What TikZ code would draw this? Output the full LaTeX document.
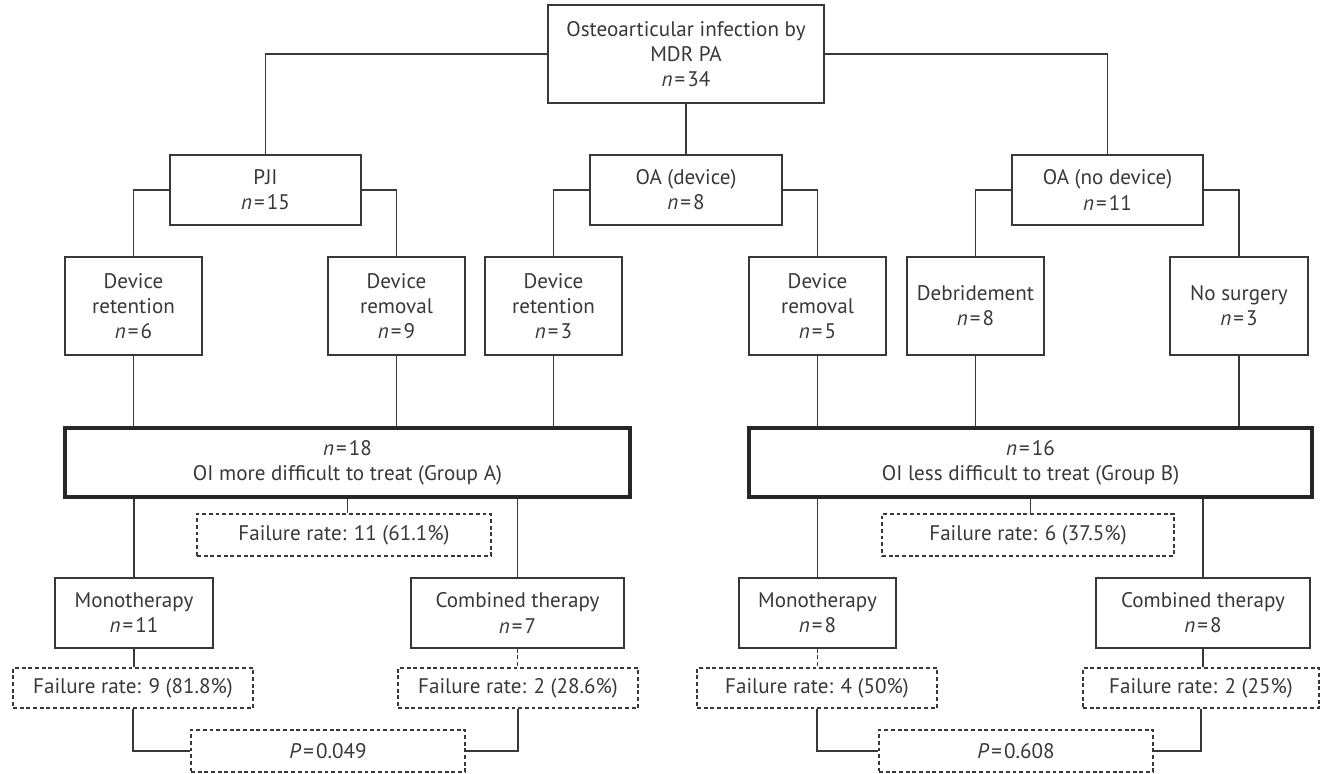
\documentclass[tikz,border=0pt]{standalone}
\usepackage{fontspec}
\setmainfont{PT Sans}
\newcommand{\nval}[1]{\textit{n}\kern1.2pt=\kern1.2pt#1}
\begin{document}
\begin{tikzpicture}[x=0.02cm,y=-0.02cm,
    every node/.style={text=ink,font=\fontsize{12}{14.3}\selectfont,align=center,inner sep=0pt},
    box/.style={draw=ink,line width=0.85pt,minimum width=#1*0.02cm},
    groupbox/.style={draw=ink!70!black,line width=1.8pt,minimum width=#1*0.02cm,minimum height=1.38cm},
    ratebox/.style={draw=ink,line width=0.7pt,dash pattern=on 2.2pt off 1.6pt,minimum width=#1*0.02cm},
    link/.style={draw=ink,line width=0.85pt}]

    \definecolor{ink}{gray}{0.22};

    % picture size as in the figure
    \useasboundingbox (0,0) rectangle (1320,774);

    %top
    \node (top) at (686,54) [box=276,minimum height=1.96cm] {Osteoarticular infection by\\MDR PA\\\nval{34}};

    %diagnosis
    \begin{scope}[every node/.append style={minimum height=1.4cm}]
    \node (pji) at (265.5,190) [box=191] {PJI\\\nval{15}};
    \node (oadev) at (686,190) [box=192] {OA (device)\\\nval{8}};
    \node (oanodev) at (1107.5,190) [box=191] {OA (no device)\\\nval{11}};
    \end{scope}

    %surgery
    \begin{scope}[every node/.append style={minimum height=1.96cm}]
    \node (ret6) at (133.5,306) [box=137] {Device\\retention\\\nval{6}};
    \node (rem9) at (396.5,306) [box=137] {Device\\removal\\\nval{9}};
    \node (ret3) at (553.5,306) [box=137] {Device\\retention\\\nval{3}};
    \node (rem5) at (817.5,306) [box=137] {Device\\removal\\\nval{5}};
    \node (debr) at (975.5,306) [box=137] {Debridement\\\nval{8}};
    \node (nosurg) at (1239,306) [box=138] {No surgery\\\nval{3}};
    \end{scope}

    %groups
    \node (grpA) at (347.5,462.5) [groupbox=565] {\nval{18}\\OI more difficult to treat (Group A)};
    \node (grpB) at (1030.5,462.5) [groupbox=563] {\nval{16}\\OI less difficult to treat (Group B)};
    \node (rateA) at (344,535) [ratebox=294,minimum height=0.84cm] {Failure rate: 11 (61.1\%)};
    \node (rateB) at (1028,535) [ratebox=292,minimum height=0.84cm] {Failure rate: 6 (37.5\%)};

    %therapy
    \begin{scope}[every node/.append style={minimum height=1.4cm}]
    \node (monoA) at (134,613) [box=158] {Monotherapy\\\nval{11}};
    \node (combA) at (517.5,613) [box=213] {Combined therapy\\\nval{7}};
    \node (monoB) at (817.5,613) [box=157] {Monotherapy\\\nval{8}};
    \node (combB) at (1203,613) [box=214] {Combined therapy\\\nval{8}};
    \end{scope}

    %failure rates
    \begin{scope}[every node/.append style={minimum height=0.8cm}]
    \node (rate9) at (133,688) [ratebox=240] {Failure rate: 9 (81.8\%)};
    \node (rate2A) at (518,688) [ratebox=240] {Failure rate: 2 (28.6\%)};
    \node (rate4) at (817,688) [ratebox=240] {Failure rate: 4 (50\%)};
    \node (rate2B) at (1201,688) [ratebox=236] {Failure rate: 2 (25\%)};
    \end{scope}

    %p values
    \node (pA) at (328,751) [ratebox=274,minimum height=0.84cm] {\textit{P}\kern1.2pt=\kern1.2pt0.049};
    \node (pB) at (1016,751) [ratebox=274,minimum height=0.84cm] {\textit{P}\kern1.2pt=\kern1.2pt0.608};

    %connectors
    \begin{scope}[link]
    \draw (top.west) -| (pji.north);
    \draw (top.south) -- (oadev.north);
    \draw (top.east) -| (oanodev.north);
    \draw (pji.west) -| (ret6.north);
    \draw (pji.east) -| (rem9.north);
    \draw (oadev.west) -| (ret3.north);
    \draw (oadev.east) -| (rem5.north);
    \draw (oanodev.west) -| (debr.north);
    \draw (oanodev.east) -| (nosurg.north);
    \foreach \s in {ret6,rem9,ret3} \draw (\s.south) -- (\s.south |- grpA.north);
    \foreach \s in {rem5,debr,nosurg} \draw (\s.south) -- (\s.south |- grpB.north);
    \draw (grpA.south) -- (grpA.south |- rateA.north);
    \draw (grpB.south) -- (grpB.south |- rateB.north);
    \draw (monoA.north |- grpA.south) -- (monoA.north);
    \draw (combA.north |- grpA.south) -- (combA.north);
    \draw (monoB.north |- grpB.south) -- (monoB.north);
    \draw (combB.north |- grpB.south) -- (combB.north);
    \draw (monoA.south) -- (monoA.south |- rate9.north);
    \draw[dash pattern=on 2.2pt off 1.6pt] (combA.south) -- (combA.south |- rate2A.north);
    \draw[dash pattern=on 2.2pt off 1.6pt] (monoB.south) -- (monoB.south |- rate4.north);
    \draw (combB.south) -- (combB.south |- rate2B.north);
    \draw (rate9.south) |- (pA.west);
    \draw (rate2A.south) |- (pA.east);
    \draw (rate4.south) |- (pB.west);
    \draw (rate2B.south) |- (pB.east);
    \end{scope}

\end{tikzpicture}
\end{document}
